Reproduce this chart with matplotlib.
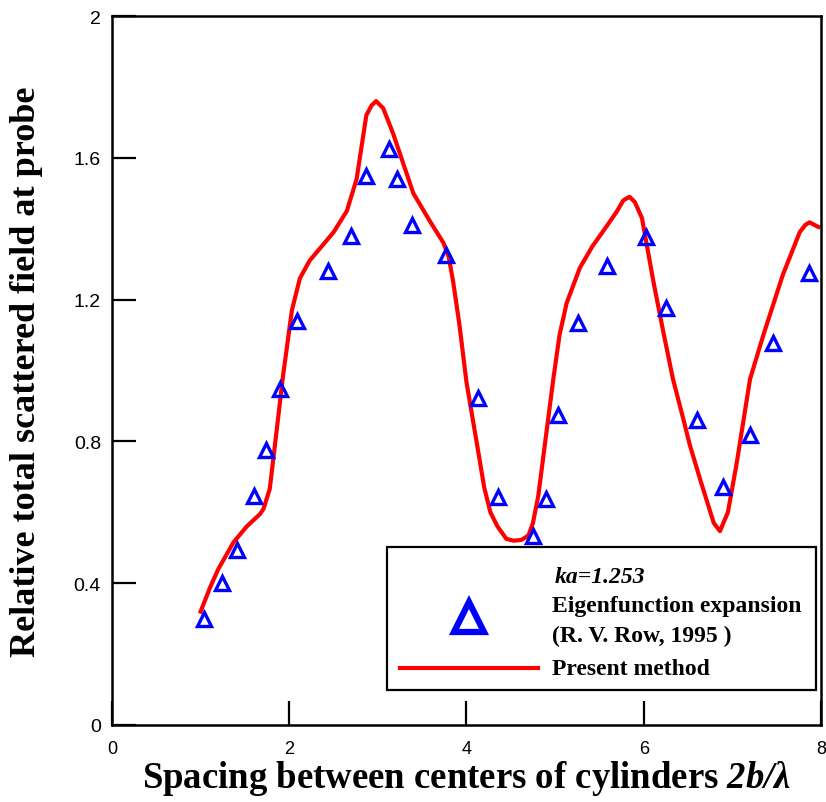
import matplotlib
matplotlib.use("Agg")
import matplotlib.pyplot as plt
from matplotlib.patches import Rectangle

# math text is only used for the italic "2b/λ" part of the x label
plt.rcParams["mathtext.fontset"] = "custom"
plt.rcParams["mathtext.it"] = "Liberation Serif:italic:bold"
plt.rcParams["mathtext.rm"] = "Liberation Serif:italic:bold"

# Eigenfunction expansion (R. V. Row)
eig_x = [1.04, 1.24, 1.41, 1.60, 1.74, 1.90, 2.09, 2.44, 2.70, 2.87, 3.13, 3.22,
         3.39, 3.77, 4.13, 4.36, 4.75, 4.90, 5.03, 5.26, 5.58, 6.03, 6.25, 6.60,
         6.90, 7.20, 7.46, 7.87]
eig_y = [0.30, 0.40, 0.494, 0.646, 0.776, 0.948, 1.14, 1.28, 1.38, 1.55, 1.625, 1.54,
         1.41, 1.325, 0.922, 0.643, 0.533, 0.637, 0.874, 1.134, 1.295, 1.376, 1.177, 0.86,
         0.67, 0.818, 1.077, 1.275]

# Present method
pm_x = [1.00, 1.11, 1.20, 1.37, 1.52, 1.67, 1.71, 1.78, 1.86, 1.93, 2.03, 2.12,
        2.23, 2.50, 2.65, 2.76, 2.87, 2.93, 2.98, 3.06, 3.17, 3.40, 3.59, 3.74,
        3.80, 3.85, 3.92, 4.00, 4.12, 4.20, 4.27, 4.35, 4.45, 4.53, 4.62, 4.70,
        4.75, 4.81, 4.92, 4.98, 5.05, 5.13, 5.28, 5.42, 5.59, 5.70, 5.77, 5.84,
        5.90, 5.98, 6.11, 6.22, 6.33, 6.45, 6.52, 6.64, 6.79, 6.86, 6.95, 7.05,
        7.20, 7.35, 7.57, 7.76, 7.82, 7.87, 7.97]
pm_y = [0.32, 0.39, 0.44, 0.515, 0.56, 0.595, 0.61, 0.666, 0.835, 0.985, 1.17, 1.26,
        1.31, 1.39, 1.45, 1.54, 1.72, 1.748, 1.76, 1.74, 1.67, 1.50, 1.42, 1.36,
        1.32, 1.25, 1.13, 0.967, 0.79, 0.67, 0.60, 0.56, 0.525, 0.52, 0.522, 0.535,
        0.57, 0.646, 0.86, 0.976, 1.10, 1.19, 1.29, 1.35, 1.41, 1.45, 1.48, 1.49,
        1.475, 1.43, 1.25, 1.11, 0.976, 0.86, 0.79, 0.69, 0.57, 0.547, 0.60, 0.74,
        0.976, 1.10, 1.27, 1.39, 1.41, 1.418, 1.405]

x_ticks = [0, 2, 4, 6, 8]
y_ticks = [0, 0.4, 0.8, 1.2, 1.6, 2.0]
y_tick_labels = ["0", "0.4", "0.8", "1.2", "1.6", "2"]

fig = plt.figure(figsize=(8.26, 8.03), dpi=100)
ax = fig.add_axes([0.1356, 0.0959, 0.8583, 0.8829])

ax.plot(pm_x, pm_y, color="red", lw=3, zorder=2)
ax.plot(eig_x, eig_y, ls="none", marker="^", ms=10, mfc="none", mec="blue",
        mew=2.4, zorder=3)

ax.set_xlim(0, 8)
ax.set_ylim(0, 2)
ax.set_xticks(x_ticks)
ax.set_yticks(y_ticks)
ax.set_yticklabels(y_tick_labels)
ax.tick_params(direction="in", length=17, width=1.6,
               top=False, right=False)
ax.tick_params(axis="x", pad=11, labelsize=13)
ax.tick_params(axis="y", pad=8, labelsize=14)
for lab in ax.get_xticklabels() + ax.get_yticklabels():
    lab.set_fontfamily("Liberation Sans")
for sp in ax.spines.values():
    sp.set_linewidth(1.8)

ax.set_xlabel(r"Spacing between centers of cylinders $\mathit{2b/λ}$",
              family="Liberation Serif", weight="bold", fontsize=26.5)
ax.xaxis.set_label_coords(0.5, -0.0465)
ax.set_ylabel("Relative total scattered field at probe",
              family="Liberation Serif", weight="bold", fontsize=26)
ax.yaxis.set_label_coords(-0.0973, 0.5)

# legend box
tr = ax.transAxes
ax.add_patch(Rectangle((0.388, 0.049), 0.605, 0.202, transform=tr,
                       fill=False, ec="black", lw=1.6, zorder=4))
ax.plot([0.504], [0.152], transform=tr, marker="^", ms=22, mfc="none",
        mec="blue", mew=4.5, zorder=5)
ax.plot([0.406, 0.601], [0.080, 0.080], transform=tr, color="red", lw=3, zorder=5)
tkw = dict(transform=tr, family="Liberation Serif", weight="bold", fontsize=17,
           va="center", ha="left", zorder=5)
ax.text(0.625, 0.210, "ka=1.253", style="italic", **tkw)
ax.text(0.621, 0.168, "Eigenfunction expansion", **tkw)
ax.text(0.621, 0.127, "(R. V. Row, 1995 )", **tkw)
ax.text(0.621, 0.080, "Present method", **tkw)

fig.savefig("out.png", dpi=100)
